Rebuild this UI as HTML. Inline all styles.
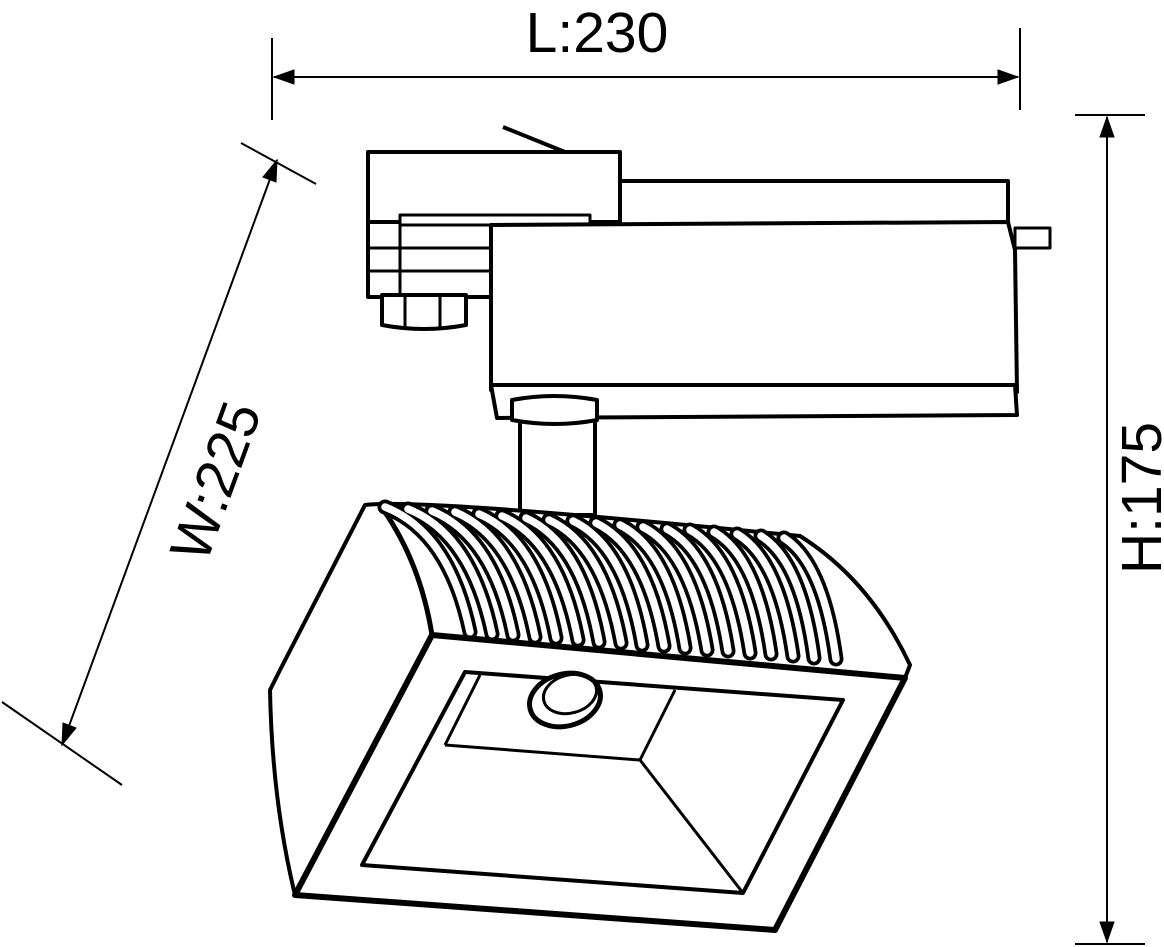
<!DOCTYPE html>
<html><head><style>html,body{margin:0;padding:0;background:#fff}svg{display:block}</style></head>
<body>
<svg width="1164" height="947" viewBox="0 0 1164 947" xmlns="http://www.w3.org/2000/svg" font-family="Liberation Sans, sans-serif">
<g stroke="#000" fill="none">
<line x1="272" y1="38" x2="272" y2="120" stroke-width="2"/>
<line x1="1020" y1="28" x2="1020" y2="110" stroke-width="2"/>
<line x1="274" y1="77" x2="1018" y2="77" stroke-width="2"/>
<path d="M274,77 l20,-7 v14 Z M1018,77 l-20,-7 v14 Z" fill="#000"/>
<line x1="1075" y1="115" x2="1145" y2="115" stroke-width="2"/>
<line x1="1075" y1="944" x2="1145" y2="944" stroke-width="2"/>
<line x1="1107" y1="117" x2="1107" y2="942" stroke-width="2"/>
<path d="M1107,117 l-7,20 h14 Z M1107,942 l-7,-20 h14 Z" fill="#000"/>
<line x1="241" y1="143" x2="316" y2="184" stroke-width="2"/>
<line x1="2" y1="702" x2="122" y2="785" stroke-width="2"/>
<line x1="277" y1="160" x2="62" y2="745" stroke-width="2"/>
<path d="M277,160 l-1,22 l-13,-5 Z M62,745 l1,-22 l13,5 Z" fill="#000"/>
</g>
<text x="597" y="52" font-size="57" text-anchor="middle">L:230</text>
<text transform="translate(1161,498) rotate(-90)" font-size="57" text-anchor="middle">H:175</text>
<text transform="translate(234,488) rotate(-70)" font-size="57" text-anchor="middle">W:225</text>

<g stroke="#000" stroke-width="4" fill="#fff" stroke-linejoin="round">
<line x1="503" y1="127" x2="565" y2="152" stroke-width="4"/>
<rect x="368" y="152" width="252" height="70"/>
<rect x="620" y="181" width="388" height="44"/>
<rect x="1015" y="228" width="35" height="20" stroke-width="3"/>
<path d="M368,222 v75 h123 v-75 Z"/>
<line x1="368" y1="248" x2="491" y2="248" stroke-width="3"/>
<line x1="368" y1="271" x2="491" y2="271" stroke-width="3"/>
<line x1="400" y1="222" x2="400" y2="297" stroke-width="3"/>
<rect x="400" y="215" width="190" height="10" stroke-width="3"/>
<path d="M382,295 h84 v30 q-42,8 -84,0 Z"/>
<line x1="405" y1="295" x2="405" y2="327" stroke-width="3"/>
<line x1="440" y1="295" x2="440" y2="327" stroke-width="3"/>
<path d="M491,225 L1008,222 L1015,250 L1017,392 L491,390 Z"/>
<path d="M491,385 L1015,385 L1017,415 L497,418 Z"/>
<rect x="520" y="420" width="75" height="95"/>
<path d="M512,400 q42,-8 85,0 v20 q-42,8 -85,0 Z"/>
<path d="M365,505 Q420,498 800,536 Q870,580 910,665 L905,678 L775,930 L295,895 Q272,800 270,690 L280,670 Z"/>
<path d="M380,505 Q420,560 432,635 L905,678" fill="none" stroke-width="5"/>
</g>
<g fill="none" stroke-linecap="round">
<g stroke="#000" stroke-width="15">
<path d="M385,507 Q449,532 470,632"/><path d="M408,509 Q471,534 492,634"/><path d="M432,511 Q493,536 513,635"/><path d="M455,512 Q515,537 535,637"/><path d="M479,514 Q537,539 556,638"/><path d="M502,516 Q559,541 578,640"/><path d="M526,518 Q581,543 599,642"/><path d="M549,520 Q603,545 621,643"/><path d="M573,521 Q625,546 642,645"/><path d="M596,523 Q647,548 664,646"/><path d="M620,525 Q669,550 685,648"/><path d="M643,527 Q691,552 707,650"/><path d="M667,529 Q713,554 728,651"/><path d="M690,530 Q735,555 750,653"/><path d="M714,532 Q757,557 771,654"/><path d="M737,534 Q779,559 793,656"/><path d="M761,536 Q801,561 814,658"/><path d="M784,538 Q823,563 836,659"/>
</g>
<g stroke="#fff" stroke-width="7.5">
<path d="M385,507 Q449,532 470,632"/><path d="M408,509 Q471,534 492,634"/><path d="M432,511 Q493,536 513,635"/><path d="M455,512 Q515,537 535,637"/><path d="M479,514 Q537,539 556,638"/><path d="M502,516 Q559,541 578,640"/><path d="M526,518 Q581,543 599,642"/><path d="M549,520 Q603,545 621,643"/><path d="M573,521 Q625,546 642,645"/><path d="M596,523 Q647,548 664,646"/><path d="M620,525 Q669,550 685,648"/><path d="M643,527 Q691,552 707,650"/><path d="M667,529 Q713,554 728,651"/><path d="M690,530 Q735,555 750,653"/><path d="M714,532 Q757,557 771,654"/><path d="M737,534 Q779,559 793,656"/><path d="M761,536 Q801,561 814,658"/><path d="M784,538 Q823,563 836,659"/>
</g>
</g>
<g stroke="#000" fill="none" stroke-linejoin="round">
<path d="M432,635 L905,678 L775,930 L295,895 Z" stroke-width="6"/>
<path d="M465,672 L843,700 L743,893 L362,865 Z" stroke-width="4"/>
<path d="M445,745 L640,760 L675,690 M640,760 L743,893 M445,745 L480,675" stroke-width="3"/>
<ellipse cx="565" cy="700" rx="36" ry="26" transform="rotate(-15 565 700)" stroke-width="5" fill="#fff"/>
<ellipse cx="570" cy="694" rx="27" ry="19" transform="rotate(-15 570 694)" stroke-width="3"/>
</g>
</svg>
</body></html>
